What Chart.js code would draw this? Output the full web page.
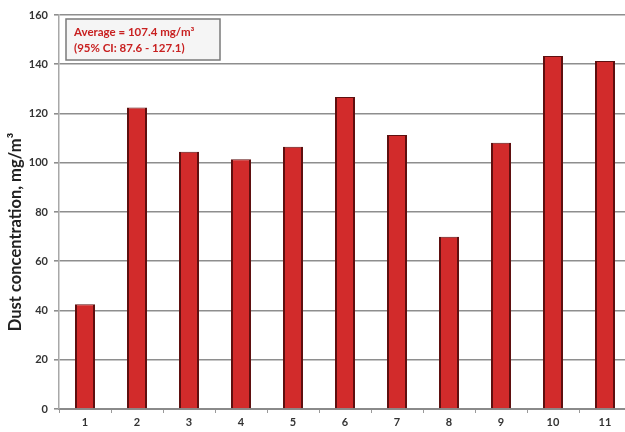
<!DOCTYPE html>
<html>
<head>
<meta charset="utf-8">
<script src="https://cdn.jsdelivr.net/npm/chart.js@4"></script>
<style>
    html, body { margin: 0; padding: 0; background: #fff; overflow: hidden; }
    #wrap { width: 631px; height: 432px; }
</style>
</head>
<body>
<div id="wrap"><canvas id="bar-chart" width="631" height="432"></canvas></div>
<script>
const categories = ["1", "2", "3", "4", "5", "6", "7", "8", "9", "10", "11"];
const dustValues = [42.5, 122.4, 104.5, 101.4, 106.5, 126.7, 111.3, 70, 108.1, 143.3, 141.3];
const yTicks = [0, 20, 40, 60, 80, 100, 120, 140, 160];
const yTitle = "Dust concentration, mg/m³";
const noteLines = ["Average = 107.4 mg/m³", "(95% CI: 87.6 - 127.1)"];

const tickFont = { family: "Lato, sans-serif", size: 11, weight: "bold" };

// caja de la nota y titulo del eje
const extras = {
    id: "extras",
    afterDraw(chart) {
        const ctx = chart.ctx;
        ctx.save();
        ctx.fillStyle = "#f5f5f5";
        ctx.strokeStyle = "#7a7a7a";
        ctx.lineWidth = 1.5;
        ctx.fillRect(66, 19, 154, 41);
        ctx.strokeRect(66, 19, 154, 41);
        ctx.fillStyle = "#c82020";
        ctx.font = "bold 11.5px Lato, sans-serif";
        ctx.textBaseline = "middle";
        ctx.fillText(noteLines[0], 74, 32);
        ctx.fillText(noteLines[1], 74, 48);

        ctx.translate(16, 232);
        ctx.rotate(-Math.PI / 2);
        ctx.textAlign = "center";
        ctx.fillStyle = "#222";
        ctx.font = "bold 16.5px Lato, sans-serif";
        ctx.fillText(yTitle, 0, 0);
        ctx.restore();
    },
};

new Chart(document.getElementById("bar-chart"), {
    type: "bar",
    data: {
        labels: categories,
        datasets: [
            {
                label: "Dust",
                data: dustValues,
                backgroundColor: "#d22b2b",
                borderColor: "#5e1010",
                borderWidth: { left: 2, right: 2, top: 1, bottom: 0 },
                barPercentage: 0.385,
                categoryPercentage: 1,
            },
        ],
    },
    options: {
        responsive: false,
        animation: false,
        layout: { padding: { top: 15, left: 0, right: 0, bottom: 0 } },
        plugins: {
            legend: { display: false },
            tooltip: { enabled: false },
        },
        scales: {
            x: {
                afterFit: (scale) => { scale.height = 23; },
                grid: {
                    display: true,
                    offset: true,
                    drawOnChartArea: false,
                    tickLength: 4,
                    color: "#9a9a9a",
                },
                border: { color: "#8a8a8a", width: 2 },
                ticks: { color: "#333", font: tickFont, padding: 3 },
            },
            y: {
                min: 0,
                max: 160,
                afterFit: (scale) => { scale.width = 59; },
                afterBuildTicks: (scale) => { scale.ticks = yTicks.map((v) => ({ value: v })); },
                grid: { color: "#8e8e8e", lineWidth: 1.6, tickLength: 5 },
                border: { color: "#a8a8a8", width: 1.5 },
                ticks: { color: "#333", font: tickFont, padding: 6 },
            },
        },
    },
    plugins: [extras],
});
</script>
</body>
</html>
